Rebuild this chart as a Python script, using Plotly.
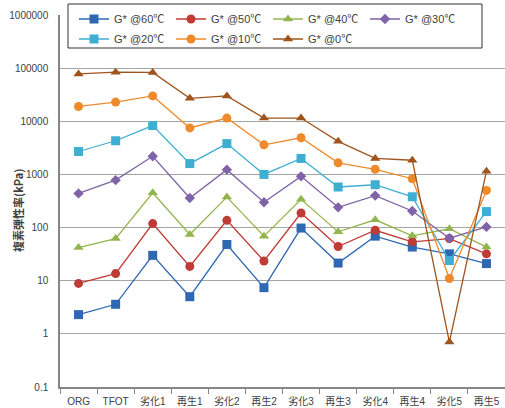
import plotly.graph_objects as go

categories = ["ORG", "TFOT", "劣化1", "再生1", "劣化2", "再生2", "劣化3", "再生3", "劣化4", "再生4", "劣化5", "再生5"]

g60 = [2.3, 3.6, 30, 5.0, 48, 7.4, 98, 21.5, 69, 43, 32, 21]
g50 = [8.9, 13.6, 119, 18.6, 137, 23.5, 188, 44, 89, 54, 62, 32]
g40 = [42, 62, 450, 74, 375, 69, 340, 83, 140, 70, 95, 43]
g30 = [440, 780, 2200, 360, 1230, 300, 920, 240, 400, 205, 63, 103]
g20 = [2700, 4300, 8300, 1600, 3800, 1000, 2000, 580, 640, 380, 24, 200]
g10 = [19000, 23000, 30000, 7500, 11500, 3600, 4900, 1650, 1250, 830, 11, 500]
g0 = [78000, 84000, 83000, 27000, 30000, 11500, 11500, 4200, 2000, 1850, 0.7, 1150]

series_names = ["G* @60℃", "G* @50℃", "G* @40℃", "G* @30℃", "G* @20℃", "G* @10℃", "G* @0℃"]
series_values = [g60, g50, g40, g30, g20, g10, g0]

y_tickvals = [0.1, 1, 10, 100, 1000, 10000, 100000, 1000000]
y_ticktext = ["0.1", "1", "10", "100", "1000", "10000", "100000", "1000000"]

colors = ["#2F68B2", "#BF3B36", "#93B54E", "#7F63A8", "#3EAFD1", "#EF8A2C", "#A0541C"]
symbols = ["square", "circle", "triangle-up", "diamond", "square", "circle", "triangle-up"]
sizes = [9, 9, 9, 8, 9, 9, 9]

fig = go.Figure()
for i, (name, vals, c, s, sz) in enumerate(zip(series_names, series_values, colors, symbols, sizes)):
    fig.add_trace(go.Scatter(
        x=categories, y=vals, name=name, mode="lines+markers",
        line=dict(color=c, width=1.3),
        marker=dict(color=c, symbol=s, size=sz),
        legend="legend" if i < 4 else "legend2",
    ))

font_family = "Liberation Sans, Noto Sans CJK JP, sans-serif"
PW = 445.0
PH = 372.0

def px_x(p):
    return (p - 60) / PW

def px_y(p):
    return (387 - p) / PH

legend_common = dict(
    orientation="h", xanchor="left", yanchor="middle",
    entrywidth=52, bgcolor="rgba(0,0,0,0)", borderwidth=0,
    font=dict(size=11, color="#404040"),
)

fig.update_layout(
    width=505, height=408,
    margin=dict(l=60, r=0, t=15, b=21, autoexpand=False),
    paper_bgcolor="white", plot_bgcolor="white",
    font=dict(family=font_family, size=11, color="#404040"),
    showlegend=True,
    legend=dict(x=px_x(74), y=px_y(19), **legend_common),
    legend2=dict(x=px_x(74), y=px_y(39), **legend_common),
    xaxis=dict(
        type="category", range=[-0.5, 11.5], tickangle=0,
        showline=True, linecolor="#868686", linewidth=1.5,
        ticks="outside", tickson="boundaries", ticklen=5, tickcolor="#868686",
        ticklabelstandoff=4,
        showgrid=False, tickfont=dict(size=10, color="#404040"),
    ),
    yaxis=dict(
        type="log", range=[-1, 6],
        tickvals=y_tickvals, ticktext=y_ticktext,
        showline=True, linecolor="#868686", linewidth=1.5,
        showgrid=True, gridcolor="#A6A6A6", gridwidth=1.2,
        ticks="", ticklabelstandoff=8,
        tickfont=dict(size=10, color="#404040"),
    ),
    shapes=[dict(
        type="rect", xref="paper", yref="paper",
        x0=px_x(68), x1=px_x(482), y0=px_y(48), y1=px_y(4),
        line=dict(color="#333333", width=1), fillcolor="white", layer="above",
    )],
    annotations=[dict(
        text="<b>複素弾性率(kPa)</b>", textangle=-90,
        xref="paper", yref="paper", x=px_x(18), y=px_y(211),
        xanchor="center", yanchor="middle", showarrow=False,
        font=dict(size=11, color="#404040", family="Noto Sans CJK JP, sans-serif"),
    )],
)

fig.write_html(
    "out.html",
    config={"displayModeBar": False},
    post_script="document.body.style.margin='0';document.body.style.overflow='hidden';",
)
